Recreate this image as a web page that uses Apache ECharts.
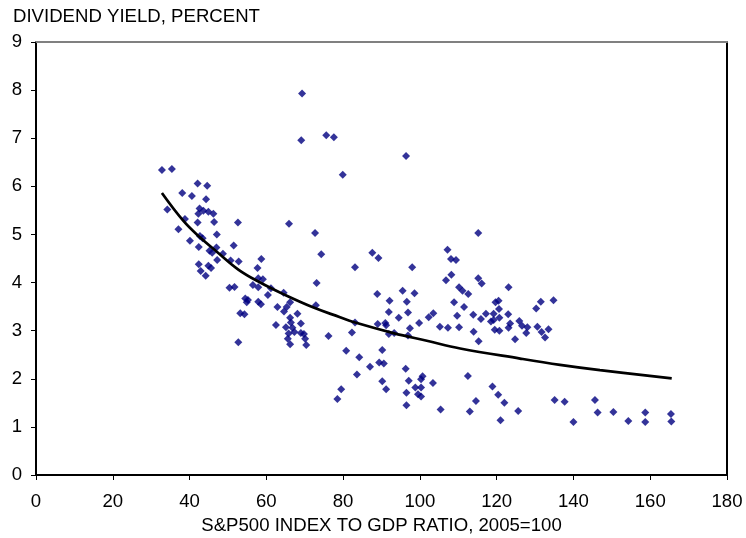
<!DOCTYPE html>
<html>
<head>
<meta charset="utf-8">
<title>Dividend yield vs S&amp;P500 to GDP ratio</title>
<script src="https://cdn.jsdelivr.net/npm/echarts@6/dist/echarts.min.js"></script>
<style>
  html, body { margin: 0; padding: 0; background: #ffffff; }
  #chart { width: 746px; height: 538px; }
</style>
</head>
<body>
<div id="chart"></div>
<script>
// S&P500 index to GDP ratio (2005 = 100) for each observation
const ratio = [
  32.8, 35.4, 42.1, 44.6, 38.1, 40.6, 44.3, 34.2, 42.6, 43.6, 44.9, 46.2, 42.3, 38.8, 42.1,
  46.4, 52.6, 37.1, 47.1, 42.7, 43.4, 40.1, 42.4, 47.0, 51.5, 45.2, 45.9, 48.7, 47.2, 50.7,
  52.8, 58.7, 42.4, 44.9, 45.6, 57.7, 42.9, 44.2, 57.9, 59.1, 50.4, 51.7, 56.5, 57.9,
  73.1, 60.4, 61.2, 64.5, 54.5, 55.2, 54.9, 57.9, 58.6, 66.2, 72.9, 62.9, 64.6, 65.3, 68.1,
  53.2, 54.3, 66.2, 66.4, 69.0, 62.5, 65.1, 66.8, 67.3, 65.8, 69.0, 69.8, 76.2, 65.6, 70.1,
  66.2, 70.4, 52.7,
  69.3, 69.1, 75.6, 77.6, 96.4, 79.9, 65.9, 72.7, 74.3, 87.6, 89.2, 107.2,
  83.1, 98.0, 108.1, 109.4, 108.2, 106.8, 95.5, 98.6, 88.9, 92.1, 96.6, 108.9, 110.2, 91.9,
  96.9, 94.5, 103.5, 102.3, 109.7, 83.1, 89.0, 91.0, 91.2, 99.8, 97.4, 105.2, 107.3, 110.2,
  91.9, 93.3, 96.9, 82.3, 80.8, 90.2, 84.2, 89.4, 90.6, 87.0, 96.3, 83.6, 100.7, 100.3, 97.1,
  90.2, 103.4, 98.8, 100.3, 91.2, 79.5, 96.5, 99.5, 100.3, 78.5, 96.5, 105.4,
  115.2, 115.2, 116.1, 123.1, 111.1, 112.6, 111.5, 119.7, 120.5, 120.6, 117.2, 119.2, 120.7,
  123.0, 113.9, 115.9, 118.5, 119.2, 130.3, 131.5, 134.8, 125.9, 126.6, 123.5, 123.1, 128.0,
  127.7, 130.6, 133.5, 131.7, 132.6, 119.5, 120.7, 114.0, 124.8, 115.3, 112.5, 118.9,
  120.4, 114.6, 122.0, 135.1, 113.0, 125.6, 121.0,
  140.0, 146.3, 150.4, 154.3, 158.7, 158.7, 165.4, 165.5, 145.6, 137.7
];

// Dividend yield (percent) for the same observations
const dividendYield = [
  6.34, 6.36, 6.06, 6.01, 5.86, 5.80, 5.73, 5.52, 5.54, 5.49, 5.47, 5.43, 5.43, 5.32, 5.25,
  5.26, 5.25, 5.11, 5.00, 4.97, 4.92, 4.87, 4.74, 4.73, 4.77, 4.66, 4.62, 4.60, 4.47, 4.46,
  4.44, 4.49, 4.38, 4.35, 4.30, 4.30, 4.24, 4.14, 4.09, 4.07, 3.89, 3.91, 3.95, 3.90,
  3.99, 3.74, 3.88, 3.79, 3.67, 3.64, 3.59, 3.60, 3.55, 3.59, 3.53, 3.49, 3.40, 3.49, 3.35,
  3.36, 3.34, 3.27, 3.17, 3.15, 3.12, 3.07, 3.06, 2.97, 2.94, 2.95, 2.93, 2.89, 2.83, 2.83,
  2.72, 2.70, 2.76,
  7.93, 6.96, 7.06, 7.02, 6.63, 6.24, 5.22, 5.03, 4.59, 4.62, 4.51, 4.68,
  4.32, 4.32, 4.49, 4.47, 4.16, 4.05, 3.83, 3.78, 3.76, 3.62, 3.60, 3.59, 3.90, 3.39,
  3.38, 3.27, 3.36, 3.28, 3.31, 3.17, 3.14, 3.16, 3.11, 3.16, 3.05, 3.08, 3.06, 3.07,
  2.93, 2.95, 2.90, 2.96, 2.58, 2.60, 2.45, 2.34, 2.32, 2.25, 2.21, 2.09, 2.05, 1.99, 1.96,
  1.95, 1.91, 1.82, 1.82, 1.78, 1.78, 1.71, 1.68, 1.63, 1.58, 1.45, 1.36,
  5.03, 4.09, 3.98, 3.90, 3.83, 3.76, 3.49, 3.59, 3.62, 3.45, 3.35, 3.35, 3.27,
  3.34, 3.33, 3.24, 3.19, 3.22, 3.46, 3.60, 3.63, 3.20, 3.10, 3.15, 3.06, 3.07,
  2.95, 3.08, 3.03, 2.97, 2.86, 3.02, 3.00, 2.98, 2.82, 2.78, 2.06, 1.84,
  1.67, 1.54, 1.50, 1.56, 1.32, 1.33, 1.14,
  1.10, 1.30, 1.31, 1.12, 1.30, 1.10, 1.27, 1.11, 1.56, 1.52
];

// Fitted trend curve
const trendRatio = [32.8, 38.4, 42.7, 47.1, 52.7, 58.4, 64.4, 72.3, 79.2, 82.7, 93.1, 101.8, 110.5, 126.1, 136.5, 146.9, 165.6];
const trendYield = [5.86, 5.28, 4.94, 4.64, 4.27, 4.00, 3.76, 3.48, 3.28, 3.18, 2.95, 2.79, 2.63, 2.42, 2.29, 2.18, 2.01];

const xTicks = { min: 0, max: 180, interval: 20 };
const yTicks = { min: 0, max: 9, interval: 1 };

const FONT = '"Liberation Sans", Arial, sans-serif';
const FONT_SIZE = 18.6;

const scatterData = ratio.map((x, i) => [x, dividendYield[i]]);
const trendData = trendRatio.map((x, i) => [x, trendYield[i]]);

const chart = echarts.init(document.getElementById('chart'), null, { renderer: 'canvas' });

chart.setOption({
  backgroundColor: '#ffffff',
  animation: false,
  title: {
    text: 'DIVIDEND YIELD, PERCENT',
    left: 13,
    top: 7,
    padding: 0,
    textStyle: { fontFamily: FONT, fontSize: FONT_SIZE, fontWeight: 'normal', color: '#000000' }
  },
  grid: { left: 36, right: 19, top: 42, bottom: 63, containLabel: false, outerBoundsMode: 'none' },
  xAxis: [
    {
      type: 'value',
      position: 'bottom',
      min: xTicks.min, max: xTicks.max, interval: xTicks.interval,
      name: 'S&P500 INDEX TO GDP RATIO, 2005=100',
      nameLocation: 'middle',
      nameGap: 31,
      nameTextStyle: { fontFamily: FONT, fontSize: FONT_SIZE, color: '#000000' },
      axisLine: { show: true, onZero: false, lineStyle: { color: '#000000', width: 2 } },
      axisTick: { show: true, inside: false, length: 5, lineStyle: { color: '#000000', width: 1 } },
      axisLabel: { fontFamily: FONT, fontSize: FONT_SIZE, color: '#000000', margin: 17 },
      splitLine: { show: false }
    },
    {
      type: 'value',
      position: 'top',
      min: xTicks.min, max: xTicks.max, interval: xTicks.interval,
      axisLine: { show: true, onZero: false, lineStyle: { color: '#808080', width: 2 } },
      axisTick: { show: false },
      axisLabel: { show: false },
      splitLine: { show: false }
    }
  ],
  yAxis: [
    {
      type: 'value',
      position: 'left',
      min: yTicks.min, max: yTicks.max, interval: yTicks.interval,
      axisLine: { show: true, onZero: false, lineStyle: { color: '#000000', width: 2 } },
      axisTick: { show: true, inside: false, length: 5, lineStyle: { color: '#000000', width: 1 } },
      axisLabel: { fontFamily: FONT, fontSize: FONT_SIZE, color: '#000000', margin: 14 },
      splitLine: { show: false }
    },
    {
      type: 'value',
      position: 'right',
      min: yTicks.min, max: yTicks.max, interval: yTicks.interval,
      axisLine: { show: true, onZero: false, lineStyle: { color: '#000000', width: 2 } },
      axisTick: { show: false },
      axisLabel: { show: false },
      splitLine: { show: false }
    }
  ],
  series: [
    {
      type: 'scatter',
      xAxisIndex: 0,
      yAxisIndex: 0,
      symbol: 'diamond',
      symbolSize: 8,
      itemStyle: { color: '#000080' },
      data: scatterData,
      z: 2
    },
    {
      type: 'line',
      xAxisIndex: 0,
      yAxisIndex: 0,
      data: trendData,
      smooth: 0.4,
      showSymbol: false,
      lineStyle: { color: '#000000', width: 2.7 },
      z: 3
    }
  ]
});
</script>
</body>
</html>
